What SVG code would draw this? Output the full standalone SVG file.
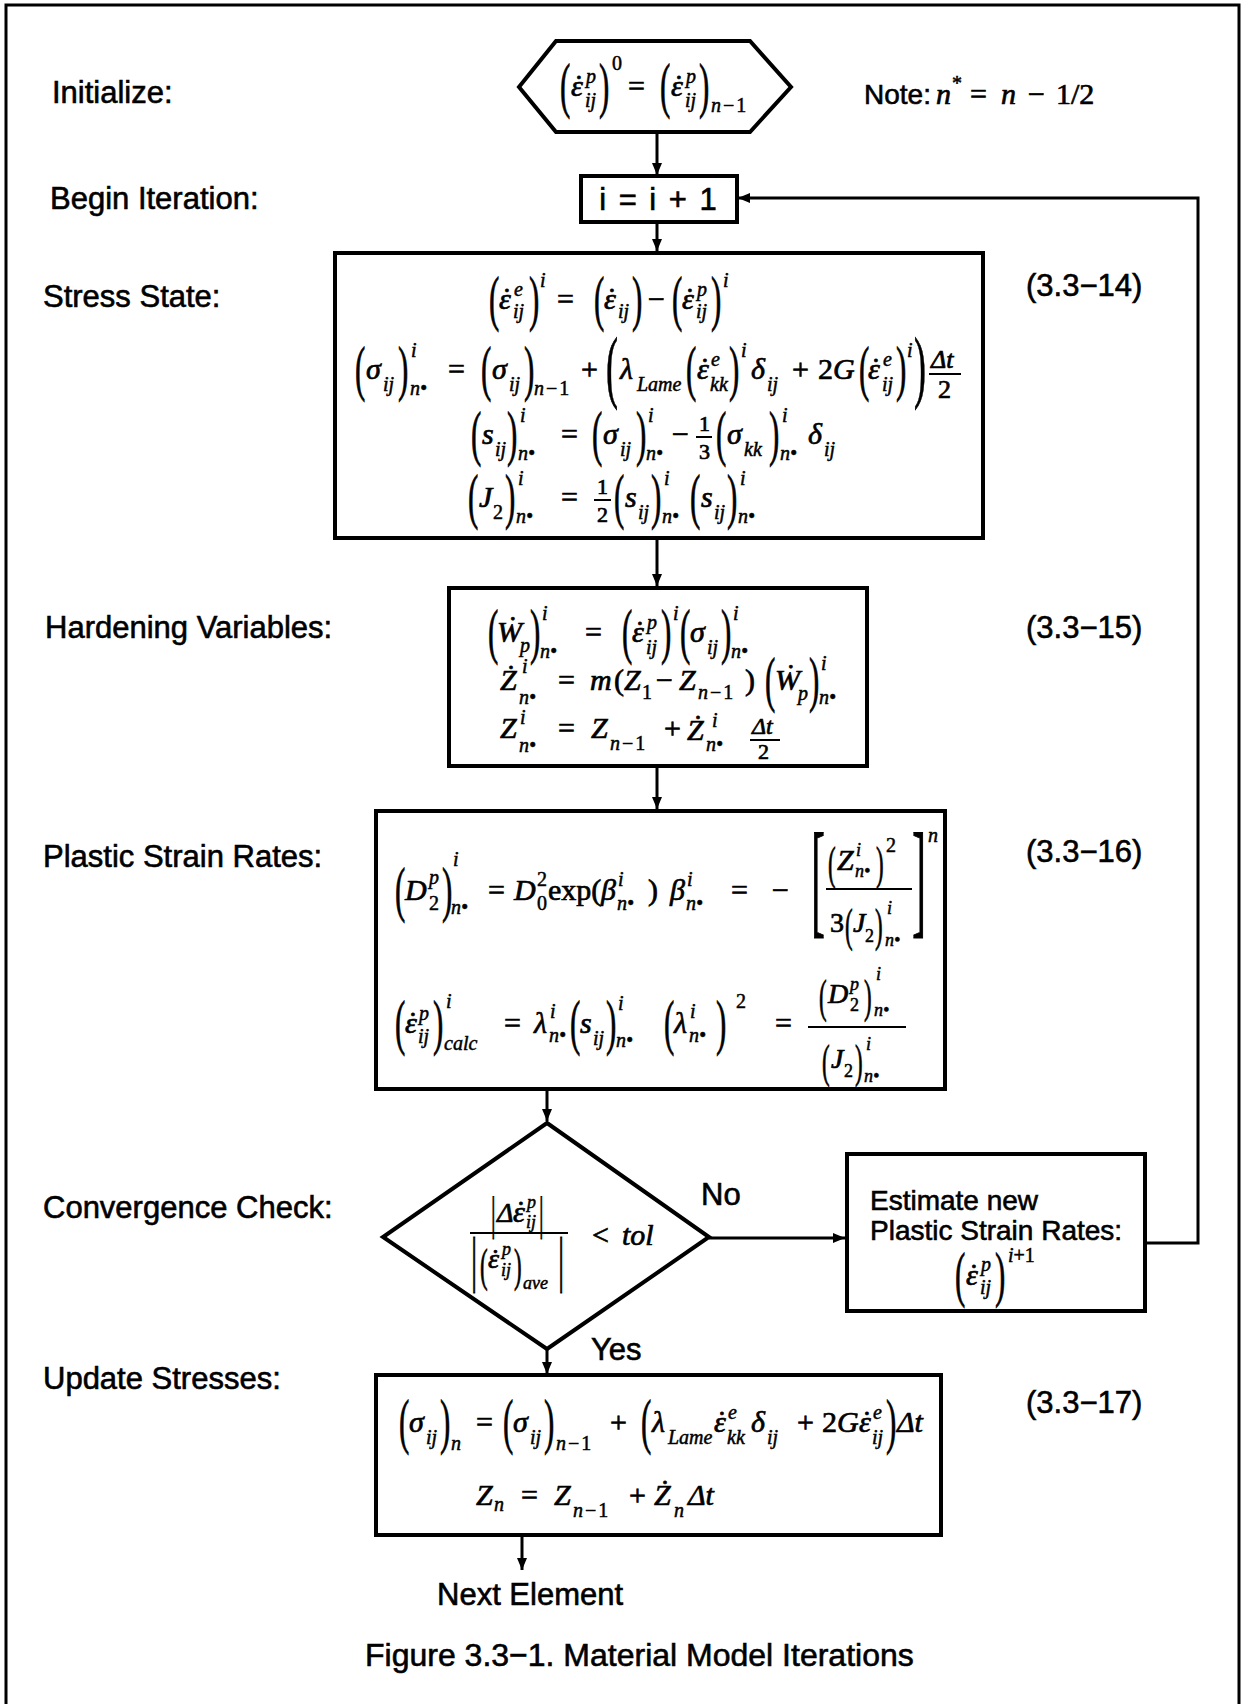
<svg xmlns="http://www.w3.org/2000/svg" width="1243" height="1704" viewBox="0 0 1243 1704">
<style>
.lbl{font-family:"Liberation Sans",Arial,sans-serif;font-size:31px;fill:#000;stroke:#000;stroke-width:0.6}
.m{font-family:"Liberation Serif","Times New Roman",serif;font-style:italic;font-size:30px;fill:#000;stroke:#000;stroke-width:0.7}
.s{font-size:20px;stroke-width:0.5}
.t{font-size:18px;stroke-width:0.5}
.n28{font-size:28px}
.u{font-style:normal}
.bp{font-family:"Liberation Serif",serif;font-size:62px;font-style:normal;fill:#000;stroke:#000;stroke-width:0.8}
.bpm{font-size:46px}
.bpl{font-size:80px}
.bk{font-size:128px}
.box{fill:#fff;stroke:#000;stroke-width:4}
.cn{fill:none;stroke:#000;stroke-width:3}
.bar{stroke:#000;stroke-width:2}
</style>
<defs>
<marker id="ah" viewBox="0 0 12 10" refX="12" refY="5" markerWidth="12" markerHeight="10" markerUnits="userSpaceOnUse" orient="auto"><path d="M0,0 L12,5 L0,10 z" fill="#000"/></marker>
</defs>
<rect width="1243" height="1704" fill="#fff"/>
<path d="M6,1704 V5 H1239 V1704" class="cn"/>

<g id="connectors">
<line x1="657" y1="132" x2="657" y2="175" class="cn" marker-end="url(#ah)"/>
<line x1="657" y1="222" x2="657" y2="251" class="cn" marker-end="url(#ah)"/>
<line x1="657" y1="539" x2="657" y2="586" class="cn" marker-end="url(#ah)"/>
<line x1="657" y1="766" x2="657" y2="809" class="cn" marker-end="url(#ah)"/>
<line x1="547" y1="1089" x2="547" y2="1121" class="cn" marker-end="url(#ah)"/>
<line x1="709" y1="1238" x2="845" y2="1238" class="cn" marker-end="url(#ah)"/>
<line x1="547" y1="1349" x2="547" y2="1374" class="cn" marker-end="url(#ah)"/>
<line x1="522" y1="1535" x2="522" y2="1570" class="cn" marker-end="url(#ah)"/>
<polyline points="1145,1243 1198,1243 1198,198 738,198" class="cn" marker-end="url(#ah)"/>
<text class="lbl" x="701" y="1205">No</text>
<text class="lbl" x="591" y="1360">Yes</text>
</g>

<g id="labels">
<text class="lbl" x="52" y="103">Initialize:</text>
<text class="lbl" x="50" y="209">Begin Iteration:</text>
<text class="lbl" x="43" y="307">Stress State:</text>
<text class="lbl" x="45" y="638">Hardening Variables:</text>
<text class="lbl" x="43" y="867">Plastic Strain Rates:</text>
<text class="lbl" x="43" y="1218">Convergence Check:</text>
<text class="lbl" x="43" y="1389">Update Stresses:</text>
<text class="lbl" x="1026" y="296">(3.3−14)</text>
<text class="lbl" x="1026" y="638">(3.3−15)</text>
<text class="lbl" x="1026" y="862">(3.3−16)</text>
<text class="lbl" x="1026" y="1413">(3.3−17)</text>
<text class="lbl" x="437" y="1605">Next Element</text>
<text class="lbl" x="365" y="1666" style="font-size:32px">Figure 3.3−1. Material Model Iterations</text>
<g id="note">
<text class="lbl" x="864" y="104" style="font-size:28px">Note:</text>
<text class="m" x="936" y="104">n</text>
<text class="m s u" x="952" y="90">*</text>
<text class="m u" x="970" y="104">=</text>
<text class="m" x="1001" y="104">n</text>
<text class="m u" x="1028" y="104">−</text>
<text class="m u" x="1056" y="104">1/2</text>
</g>
</g>

<g id="initialize">
<polygon points="519,87 556,41 750,41 791,87 750,132 556,132" class="box"/>
<text class="bp" transform="translate(560,106) scale(0.5,1)">(</text>
<text class="m" x="571" y="96">ε</text><text class="m" x="572" y="96">˙</text>
<text class="m s" x="586" y="83">p</text>
<text class="m s" x="585" y="107">ij</text>
<text class="bp" transform="translate(599,106) scale(0.5,1)">)</text>
<text class="m s u" x="612" y="70">0</text>
<text class="m u" x="628" y="96">=</text>
<text class="bp" transform="translate(660,106) scale(0.5,1)">(</text>
<text class="m" x="671" y="96">ε</text><text class="m" x="672" y="96">˙</text>
<text class="m s" x="686" y="83">p</text>
<text class="m s" x="685" y="107">ij</text>
<text class="bp" transform="translate(699,106) scale(0.5,1)">)</text>
<text class="m s" x="711" y="112" letter-spacing="2">n<tspan class="u">−1</tspan></text>
</g>

<g id="begin-iteration">
<rect x="581" y="176" width="156" height="46" class="box"/>
<text class="lbl" x="659" y="210" text-anchor="middle" letter-spacing="2">i = i + 1</text>
</g>

<g id="stress-state">
<rect x="335" y="253" width="648" height="285" class="box"/>
<text class="bp" transform="translate(489,319) scale(0.5,1)">(</text>
<text class="m" x="499" y="309">ε</text><text class="m" x="500" y="309">˙</text>
<text class="m s" x="514" y="296">e</text>
<text class="m s" x="513" y="318">ij</text>
<text class="bp" transform="translate(529,319) scale(0.5,1)">)</text>
<text class="m s" x="540" y="287">i</text>
<text class="m u" x="557" y="309">=</text>
<text class="bp" transform="translate(594,319) scale(0.5,1)">(</text>
<text class="m" x="604" y="309">ε</text><text class="m" x="605" y="309">˙</text>
<text class="m s" x="618" y="318">ij</text>
<text class="bp" transform="translate(632,319) scale(0.5,1)">)</text>
<text class="m u" x="648" y="309">−</text>
<text class="bp" transform="translate(672,319) scale(0.5,1)">(</text>
<text class="m" x="682" y="309">ε</text><text class="m" x="683" y="309">˙</text>
<text class="m s" x="697" y="296">p</text>
<text class="m s" x="696" y="318">ij</text>
<text class="bp" transform="translate(711,319) scale(0.5,1)">)</text>
<text class="m s" x="723" y="287">i</text>

<text class="bp" transform="translate(355,389) scale(0.5,1)">(</text>
<text class="m" x="366" y="379">σ</text>
<text class="m s" x="383" y="391">ij</text>
<text class="bp" transform="translate(398,389) scale(0.5,1)">)</text>
<text class="m s" x="411" y="357">i</text>
<text class="m s" x="410" y="395">n•</text>
<text class="m u" x="448" y="379">=</text>
<text class="bp" transform="translate(481,389) scale(0.5,1)">(</text>
<text class="m" x="492" y="379">σ</text>
<text class="m s" x="509" y="391">ij</text>
<text class="bp" transform="translate(524,389) scale(0.5,1)">)</text>
<text class="m s" x="534" y="395" letter-spacing="2">n<tspan class="u">−1</tspan></text>
<text class="m u" x="581" y="379">+</text>
<text class="bp bpl" transform="translate(606,393) scale(0.45,1)">(</text>
<text class="m" x="620" y="379">λ</text>
<text class="m s" x="637" y="391">Lame</text>
<text class="bp" transform="translate(686,389) scale(0.5,1)">(</text>
<text class="m" x="697" y="379">ε</text><text class="m" x="698" y="379">˙</text>
<text class="m s" x="711" y="366">e</text>
<text class="m s" x="710" y="391">kk</text>
<text class="bp" transform="translate(729,389) scale(0.5,1)">)</text>
<text class="m s" x="741" y="357">i</text>
<text class="m" x="751" y="379">δ</text>
<text class="m s" x="767" y="391">ij</text>
<text class="m u" x="792" y="379">+</text>
<text class="m u" x="818" y="379">2</text>
<text class="m" x="833" y="379">G</text>
<text class="bp" transform="translate(859,389) scale(0.5,1)">(</text>
<text class="m" x="868" y="379">ε</text><text class="m" x="869" y="379">˙</text>
<text class="m s" x="883" y="366">e</text>
<text class="m s" x="882" y="391">ij</text>
<text class="bp" transform="translate(896,389) scale(0.5,1)">)</text>
<text class="m s" x="907" y="357">i</text>
<text class="bp bpl" transform="translate(914,393) scale(0.45,1)">)</text>
<text class="m" x="931" y="368" style="font-size:26px">Δt</text>
<line x1="929" y1="374" x2="961" y2="374" class="bar"/>
<text class="m u" x="938" y="398" style="font-size:26px">2</text>

<text class="bp" transform="translate(471,454) scale(0.5,1)">(</text>
<text class="m" x="482" y="444">s</text>
<text class="m s" x="495" y="456">ij</text>
<text class="bp" transform="translate(507,454) scale(0.5,1)">)</text>
<text class="m s" x="520" y="422">i</text>
<text class="m s" x="518" y="460">n•</text>
<text class="m u" x="561" y="444">=</text>
<text class="bp" transform="translate(592,454) scale(0.5,1)">(</text>
<text class="m" x="603" y="444">σ</text>
<text class="m s" x="620" y="456">ij</text>
<text class="bp" transform="translate(636,454) scale(0.5,1)">)</text>
<text class="m s" x="648" y="422">i</text>
<text class="m s" x="646" y="460">n•</text>
<text class="m u" x="672" y="444">−</text>
<text class="m u" x="699" y="431" style="font-size:22px">1</text>
<line x1="696" y1="437" x2="712" y2="437" class="bar"/>
<text class="m u" x="699" y="459" style="font-size:22px">3</text>
<text class="bp" transform="translate(716,454) scale(0.5,1)">(</text>
<text class="m" x="727" y="444">σ</text>
<text class="m s" x="744" y="456">kk</text>
<text class="bp" transform="translate(769,454) scale(0.5,1)">)</text>
<text class="m s" x="782" y="422">i</text>
<text class="m s" x="780" y="460">n•</text>
<text class="m" x="808" y="444">δ</text>
<text class="m s" x="824" y="456">ij</text>

<text class="bp" transform="translate(468,517) scale(0.5,1)">(</text>
<text class="m" x="479" y="507">J</text>
<text class="m s u" x="493" y="519">2</text>
<text class="bp" transform="translate(505,517) scale(0.5,1)">)</text>
<text class="m s" x="518" y="485">i</text>
<text class="m s" x="516" y="523">n•</text>
<text class="m u" x="561" y="507">=</text>
<text class="m u" x="597" y="494" style="font-size:22px">1</text>
<line x1="594" y1="500" x2="611" y2="500" class="bar"/>
<text class="m u" x="597" y="522" style="font-size:22px">2</text>
<text class="bp" transform="translate(614,517) scale(0.5,1)">(</text>
<text class="m" x="625" y="507">s</text>
<text class="m s" x="638" y="519">ij</text>
<text class="bp" transform="translate(651,517) scale(0.5,1)">)</text>
<text class="m s" x="664" y="485">i</text>
<text class="m s" x="662" y="523">n•</text>
<text class="bp" transform="translate(690,517) scale(0.5,1)">(</text>
<text class="m" x="701" y="507">s</text>
<text class="m s" x="714" y="519">ij</text>
<text class="bp" transform="translate(727,517) scale(0.5,1)">)</text>
<text class="m s" x="740" y="485">i</text>
<text class="m s" x="738" y="523">n•</text>
</g>

<g id="hardening-variables">
<rect x="449" y="588" width="418" height="178" class="box"/>
<text class="bp" transform="translate(488,652) scale(0.5,1)">(</text>
<text class="m" x="497" y="642">Ẇ</text>
<text class="m s" x="520" y="652">p</text>
<text class="bp" transform="translate(530,652) scale(0.5,1)">)</text>
<text class="m s" x="542" y="620">i</text>
<text class="m s" x="540" y="658">n•</text>
<text class="m u" x="585" y="642">=</text>
<text class="bp" transform="translate(622,652) scale(0.5,1)">(</text>
<text class="m" x="632" y="642">ε</text><text class="m" x="633" y="642">˙</text>
<text class="m s" x="647" y="629">p</text>
<text class="m s" x="646" y="654">ij</text>
<text class="bp" transform="translate(661,652) scale(0.5,1)">)</text>
<text class="m s" x="673" y="620">i</text>
<text class="bp" transform="translate(680,652) scale(0.5,1)">(</text>
<text class="m" x="690" y="642">σ</text>
<text class="m s" x="707" y="654">ij</text>
<text class="bp" transform="translate(721,652) scale(0.5,1)">)</text>
<text class="m s" x="733" y="620">i</text>
<text class="m s" x="731" y="658">n•</text>

<text class="m" x="500" y="690">Ż</text>
<text class="m s" x="522" y="673">i</text>
<text class="m s" x="519" y="704">n•</text>
<text class="m u" x="558" y="690">=</text>
<text class="m" x="590" y="690">m</text>
<text class="m u" x="614" y="690">(</text>
<text class="m" x="624" y="690">Z</text>
<text class="m s u" x="642" y="699">1</text>
<text class="m u" x="656" y="690">−</text>
<text class="m" x="679" y="690">Z</text>
<text class="m s" x="698" y="699" letter-spacing="2">n<tspan class="u">−1</tspan></text>
<text class="m u" x="745" y="690">)</text>
<text class="bp" transform="translate(765,700) scale(0.5,1)">(</text>
<text class="m" x="775" y="690">Ẇ</text>
<text class="m s" x="798" y="700">p</text>
<text class="bp" transform="translate(809,700) scale(0.5,1)">)</text>
<text class="m s" x="821" y="670">i</text>
<text class="m s" x="819" y="704">n•</text>

<text class="m" x="500" y="738">Z</text>
<text class="m s" x="520" y="724">i</text>
<text class="m s" x="519" y="752">n•</text>
<text class="m u" x="558" y="738">=</text>
<text class="m" x="591" y="738">Z</text>
<text class="m s" x="610" y="750" letter-spacing="2">n<tspan class="u">−1</tspan></text>
<text class="m u" x="664" y="738">+</text>
<text class="m" x="687" y="740">Ż</text>
<text class="m s" x="712" y="727">i</text>
<text class="m s" x="706" y="751">n•</text>
<text class="m" x="752" y="734" style="font-size:24px">Δt</text>
<line x1="750" y1="740" x2="780" y2="740" class="bar"/>
<text class="m u" x="758" y="759" style="font-size:22px">2</text>
</g>

<g id="plastic-strain-rates">
<rect x="376" y="811" width="569" height="278" class="box"/>
<text class="bp" transform="translate(395,910) scale(0.5,1)">(</text>
<text class="m" x="405" y="900">D</text>
<text class="m s" x="429" y="884">p</text>
<text class="m s u" x="429" y="910">2</text>
<text class="bp" transform="translate(442,910) scale(0.5,1)">)</text>
<text class="m s" x="453" y="866">i</text>
<text class="m s" x="451" y="914">n•</text>
<text class="m u" x="488" y="900">=</text>
<text class="m" x="514" y="900">D</text>
<text class="m s u" x="537" y="886">2</text>
<text class="m s u" x="537" y="910">0</text>
<text class="m u" x="548" y="900">exp(</text>
<text class="m" x="601" y="900">β</text>
<text class="m s" x="618" y="886">i</text>
<text class="m s" x="617" y="910">n•</text>
<text class="m u" x="648" y="900">)</text>
<text class="m" x="670" y="900">β</text>
<text class="m s" x="687" y="886">i</text>
<text class="m s" x="686" y="910">n•</text>
<text class="m u" x="731" y="900">=</text>
<text class="m u" x="772" y="900">−</text>
<text class="bp bk" transform="translate(811,921) scale(0.33,1)">[</text>
<text class="bp bpm" transform="translate(828,879) scale(0.5,1)">(</text>
<text class="m" x="837" y="870">Z</text>
<text class="m t" x="856" y="856">i</text>
<text class="m t" x="855" y="877">n•</text>
<text class="bp bpm" transform="translate(876,879) scale(0.5,1)">)</text>
<text class="m s u" x="886" y="852">2</text>
<line x1="826" y1="889" x2="912" y2="889" class="bar"/>
<text class="m n28 u" x="830" y="932">3</text>
<text class="bp bpm" transform="translate(845,941) scale(0.5,1)">(</text>
<text class="m n28" x="853" y="932">J</text>
<text class="m t u" x="865" y="942">2</text>
<text class="bp bpm" transform="translate(875,941) scale(0.5,1)">)</text>
<text class="m t" x="887" y="914">i</text>
<text class="m t" x="885" y="946">n•</text>
<text class="bp bk" transform="translate(912,921) scale(0.33,1)">]</text>
<text class="m s" x="928" y="842">n</text>

<text class="bp" transform="translate(395,1043) scale(0.5,1)">(</text>
<text class="m" x="405" y="1033">ε</text><text class="m" x="406" y="1033">˙</text>
<text class="m s" x="419" y="1020">p</text>
<text class="m s" x="418" y="1043">ij</text>
<text class="bp" transform="translate(433,1043) scale(0.5,1)">)</text>
<text class="m s" x="446" y="1008">i</text>
<text class="m s" x="444" y="1050">calc</text>
<text class="m u" x="504" y="1033">=</text>
<text class="m" x="534" y="1033">λ</text>
<text class="m s" x="550" y="1018">i</text>
<text class="m s" x="549" y="1042">n•</text>
<text class="bp" transform="translate(570,1043) scale(0.5,1)">(</text>
<text class="m" x="580" y="1033">s</text>
<text class="m s" x="593" y="1045">ij</text>
<text class="bp" transform="translate(606,1043) scale(0.5,1)">)</text>
<text class="m s" x="618" y="1010">i</text>
<text class="m s" x="616" y="1047">n•</text>
<text class="bp" transform="translate(664,1043) scale(0.5,1)">(</text>
<text class="m" x="674" y="1033">λ</text>
<text class="m s" x="690" y="1018">i</text>
<text class="m s" x="689" y="1042">n•</text>
<text class="bp" transform="translate(716,1043) scale(0.5,1)">)</text>
<text class="m s u" x="736" y="1008">2</text>
<text class="m u" x="775" y="1033">=</text>
<text class="bp bpm" transform="translate(819,1012) scale(0.5,1)">(</text>
<text class="m n28" x="828" y="1003">D</text>
<text class="m t" x="850" y="990">p</text>
<text class="m t u" x="850" y="1011">2</text>
<text class="bp bpm" transform="translate(864,1012) scale(0.5,1)">)</text>
<text class="m t" x="876" y="980">i</text>
<text class="m t" x="874" y="1016">n•</text>
<line x1="808" y1="1027" x2="906" y2="1027" class="bar"/>
<text class="bp bpm" transform="translate(822,1077) scale(0.5,1)">(</text>
<text class="m n28" x="831" y="1068">J</text>
<text class="m t u" x="844" y="1077">2</text>
<text class="bp bpm" transform="translate(855,1077) scale(0.5,1)">)</text>
<text class="m t" x="866" y="1050">i</text>
<text class="m t" x="864" y="1082">n•</text>
</g>

<g id="convergence-check">
<polygon points="547,1123 709,1237 547,1349 383,1237" class="box"/>
<text class="bp bpm" transform="translate(491,1229) scale(0.5,1)">|</text>
<text class="m n28" x="497" y="1222">Δ</text>
<text class="m" x="513" y="1222">ε</text><text class="m" x="514" y="1222">˙</text>
<text class="m t" x="527" y="1208">p</text>
<text class="m t" x="526" y="1228">ij</text>
<text class="bp bpm" transform="translate(539,1229) scale(0.5,1)">|</text>
<line x1="470" y1="1233" x2="568" y2="1233" class="bar"/>
<text class="bp" transform="translate(471,1280) scale(0.5,1)">|</text>
<text class="bp bpm" transform="translate(480,1281) scale(0.5,1)">(</text>
<text class="m n28" x="488" y="1268">ε</text><text class="m n28" x="489" y="1268">˙</text>
<text class="m t" x="502" y="1255">p</text>
<text class="m t" x="501" y="1276">ij</text>
<text class="bp bpm" transform="translate(514,1281) scale(0.5,1)">)</text>
<text class="m t" x="523" y="1289">ave</text>
<text class="bp" transform="translate(558,1280) scale(0.5,1)">|</text>
<text class="m u" x="592" y="1245">&lt;</text>
<text class="m" x="622" y="1245">tol</text>
</g>

<g id="estimate-new">
<rect x="847" y="1154" width="298" height="157" class="box"/>
<text class="lbl" x="870" y="1210" style="font-size:28px">Estimate new</text>
<text class="lbl" x="870" y="1240" style="font-size:28px">Plastic Strain Rates:</text>
<text class="bp" transform="translate(955,1295) scale(0.5,1)">(</text>
<text class="m" x="966" y="1285">ε</text><text class="m" x="967" y="1285">˙</text>
<text class="m s" x="981" y="1271">p</text>
<text class="m s" x="980" y="1294">ij</text>
<text class="bp" transform="translate(995,1295) scale(0.5,1)">)</text>
<text class="m s" x="1008" y="1262">i<tspan class="u">+1</tspan></text>
</g>

<g id="update-stresses">
<rect x="376" y="1375" width="565" height="160" class="box"/>
<text class="bp" transform="translate(399,1442) scale(0.5,1)">(</text>
<text class="m" x="409" y="1432">σ</text>
<text class="m s" x="426" y="1444">ij</text>
<text class="bp" transform="translate(440,1442) scale(0.5,1)">)</text>
<text class="m s" x="451" y="1450">n</text>
<text class="m u" x="476" y="1432">=</text>
<text class="bp" transform="translate(503,1442) scale(0.5,1)">(</text>
<text class="m" x="513" y="1432">σ</text>
<text class="m s" x="530" y="1444">ij</text>
<text class="bp" transform="translate(544,1442) scale(0.5,1)">)</text>
<text class="m s" x="556" y="1450" letter-spacing="2">n<tspan class="u">−1</tspan></text>
<text class="m u" x="610" y="1432">+</text>
<text class="bp" transform="translate(641,1442) scale(0.5,1)">(</text>
<text class="m" x="652" y="1432">λ</text>
<text class="m s" x="668" y="1444">Lame</text>
<text class="m" x="714" y="1432">ε</text><text class="m" x="715" y="1432">˙</text>
<text class="m s" x="728" y="1419">e</text>
<text class="m s" x="727" y="1444">kk</text>
<text class="m" x="751" y="1432">δ</text>
<text class="m s" x="767" y="1444">ij</text>
<text class="m u" x="797" y="1432">+</text>
<text class="m u" x="822" y="1432">2</text>
<text class="m" x="837" y="1432">G</text>
<text class="m" x="859" y="1432">ε</text><text class="m" x="860" y="1432">˙</text>
<text class="m s" x="873" y="1419">e</text>
<text class="m s" x="872" y="1444">ij</text>
<text class="bp" transform="translate(886,1442) scale(0.5,1)">)</text>
<text class="m" x="897" y="1432">Δt</text>
<text class="m" x="476" y="1505">Z</text>
<text class="m s" x="494" y="1511">n</text>
<text class="m u" x="521" y="1505">=</text>
<text class="m" x="554" y="1505">Z</text>
<text class="m s" x="573" y="1517" letter-spacing="2">n<tspan class="u">−1</tspan></text>
<text class="m u" x="629" y="1505">+</text>
<text class="m" x="654" y="1505">Ż</text>
<text class="m s" x="674" y="1517">n</text>
<text class="m" x="688" y="1505">Δt</text>
</g>
</svg>
